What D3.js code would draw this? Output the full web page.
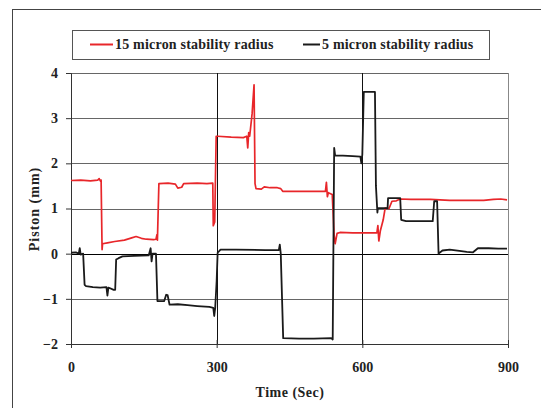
<!DOCTYPE html>
<meta charset="utf-8">
<style>
  body { margin: 0; background: #fff; }
  text { font-family: "Liberation Serif", "Times New Roman", serif; font-weight: bold; }
</style>

<!-- Load d3.js -->
<script src="https://d3js.org/d3.v7.min.js"></script>

<div id="chart"></div>

<script>
// data (time in sec, piston in mm)
var seriesNames = ["15 micron stability radius", "5 micron stability radius"];
var xTicks = [0, 300, 600, 900];
var yTicks = [-2, -1, 0, 1, 2, 3, 4];

var redT = [0, 20, 40, 55, 58, 61, 62, 64, 65, 75, 90, 110, 125, 134, 145, 155, 170, 175, 177, 178, 181,
  200, 215, 220, 228, 232, 260, 280, 292, 293, 296, 299, 302, 330, 355, 362, 364, 366, 368, 373, 377, 379,
  381, 392, 398, 410, 425, 432, 436, 480, 524, 526, 528, 530, 538, 542, 544, 548, 554, 580, 610, 630, 632,
  634, 637, 643, 647, 655, 661, 670, 678, 700, 740, 780, 850, 870, 885, 898];
var redV = [1.62, 1.63, 1.61, 1.63, 1.66, 1.6, 1.63, 0.09, 0.22, 0.24, 0.27, 0.3, 0.35, 0.38, 0.34, 0.32, 0.31, 0.32, 0.42, 0.3, 1.55,
  1.56, 1.54, 1.45, 1.47, 1.55, 1.56, 1.55, 1.56, 0.62, 0.7, 2.6, 2.6, 2.58, 2.57, 2.6, 2.34, 2.68, 2.6, 3.1, 3.74, 1.55,
  1.44, 1.43, 1.48, 1.46, 1.46, 1.44, 1.38, 1.38, 1.38, 1.58, 1.26, 1.35, 1.31, 0.4, 0.22, 0.45, 0.47, 0.46, 0.46, 0.46, 0.62,
  0.28, 0.5, 0.75, 1.01, 1.0, 1.16, 1.17, 1.21, 1.2, 1.2, 1.18, 1.18, 1.2, 1.21, 1.19];

var blackT = [0, 10, 16, 18, 20, 25, 28, 31, 45, 60, 73, 75, 77, 88, 91, 93, 98, 106, 130, 160, 164, 166, 168, 175,
  178, 192, 196, 199, 203, 220, 240, 260, 285, 293, 295, 297, 300, 302, 308, 340, 400, 428, 430, 432, 437,
  470, 500, 536, 539, 542, 544, 560, 580, 596, 598, 600, 603, 626, 628, 631, 632, 652, 653, 678, 680, 690,
  720, 745, 748, 754, 757, 765, 780, 800, 815, 828, 838, 860, 880, 898];
var blackV = [0.02, 0.03, 0.0, 0.12, -0.02, 0.0, -0.69, -0.72, -0.74, -0.75, -0.74, -0.93, -0.75, -0.8, -0.8, -0.13, -0.1, -0.06, -0.05, -0.04, 0.12, -0.17, 0.0, 0.0,
  -1.05, -1.05, -0.91, -0.92, -1.13, -1.12, -1.14, -1.16, -1.18, -1.2, -1.38, -1.2, -0.6, 0.02, 0.09, 0.09, 0.08, 0.08, 0.2, 0.0, -1.87,
  -1.88, -1.88, -1.87, -1.9, 2.34, 2.17, 2.17, 2.16, 2.15, 2.0, 2.2, 3.58, 3.58, 1.5, 0.91, 1.01, 1.01, 1.23, 1.23, 0.75, 0.72,
  0.72, 0.72, 1.16, 1.16, 0.0, 0.07, 0.09, 0.06, 0.04, 0.03, 0.12, 0.12, 0.11, 0.11];

var margin = {top: 73, right: 33, bottom: 64, left: 71};
var width = 541 - margin.left - margin.right;
var height = 408 - margin.top - margin.bottom;

var root = d3.select("#chart")
  .append("svg")
    .attr("width", 541)
    .attr("height", 408);

// outer frame
root.append("rect")
  .attr("x", 12.5).attr("y", 9.5)
  .attr("width", 540).attr("height", 410)
  .style("fill", "none").style("stroke", "#444");

var svg = root.append("g")
  .attr("transform", "translate(" + margin.left + "," + margin.top + ")");

var x = d3.scaleLinear().domain([0, 900]).range([0, width]);
var y = d3.scaleLinear().domain([-2, 4]).range([height, 0]);

// horizontal grid
svg.selectAll(".hgrid")
  .data(yTicks)
  .enter()
  .append("line")
    .attr("x1", 0).attr("x2", width)
    .attr("y1", function(d) { return Math.round(y(d)) + 0.5; })
    .attr("y2", function(d) { return Math.round(y(d)) + 0.5; })
    .style("stroke", function(d) { return d === 0 ? "#000" : "#666"; });

// vertical grid at 300 and 600
svg.selectAll(".vgrid")
  .data([300, 600])
  .enter()
  .append("line")
    .attr("y1", 0).attr("y2", height)
    .attr("x1", function(d) { return Math.round(x(d)) + 0.5; })
    .attr("x2", function(d) { return Math.round(x(d)) + 0.5; })
    .style("stroke", "#111");

// right border
svg.append("line")
  .attr("x1", width + 0.5).attr("x2", width + 0.5)
  .attr("y1", 0).attr("y2", height)
  .style("stroke", "#888");

// axes
var yAxis = svg.append("g")
  .call(d3.axisLeft(y).tickValues(yTicks).tickSize(5).tickPadding(8).tickFormat(d3.format("d")));
var xAxis = svg.append("g")
  .attr("transform", "translate(0," + height + ")")
  .call(d3.axisBottom(x).tickValues(xTicks).tickSize(4).tickPadding(14));
xAxis.selectAll(".tick line").attr("y1", -4);

svg.selectAll(".domain").style("stroke", "#333");
svg.selectAll(".tick line").style("stroke", "#333");
svg.selectAll(".tick text")
  .style("font-size", "14px")
  .style("fill", "#222");
xAxis.select(".domain").attr("d", "M0,0.5H" + width);

// lines
var line = d3.line()
  .x(function(d) { return x(d[0]); })
  .y(function(d) { return y(d[1]); });

var redData = redT.map(function(t, i) { return [t, redV[i]]; });
var blackData = blackT.map(function(t, i) { return [t, blackV[i]]; });

svg.append("path")
  .datum(redData)
  .attr("d", line)
  .style("fill", "none")
  .style("stroke", "#e8262a")
  .style("stroke-width", 1.7)
  .style("stroke-linejoin", "round");

svg.append("path")
  .datum(blackData)
  .attr("d", line)
  .style("fill", "none")
  .style("stroke", "#1a1a1a")
  .style("stroke-width", 1.8)
  .style("stroke-linejoin", "round");

// axis titles
root.append("text")
  .attr("x", 290).attr("y", 397)
  .attr("text-anchor", "middle")
  .style("font-size", "14px")
  .style("letter-spacing", "0.5px")
  .style("fill", "#222")
  .text("Time (Sec)");

root.append("text")
  .attr("transform", "translate(39,209) rotate(-90)")
  .attr("text-anchor", "middle")
  .style("font-size", "14px")
  .style("letter-spacing", "1px")
  .style("fill", "#222")
  .text("Piston (mm)");

// legend
var legend = root.append("g");
legend.append("rect")
  .attr("x", 72.5).attr("y", 30.5)
  .attr("width", 417).attr("height", 29)
  .style("fill", "#fff").style("stroke", "#555");

var legendItems = [
  {name: seriesNames[0], color: "#e8262a", x: 90, len: 23},
  {name: seriesNames[1], color: "#1a1a1a", x: 303, len: 17}
];
legendItems.forEach(function(d) {
  legend.append("line")
    .attr("x1", d.x).attr("x2", d.x + d.len)
    .attr("y1", 44.5).attr("y2", 44.5)
    .style("stroke", d.color).style("stroke-width", 2);
  legend.append("text")
    .attr("x", d.x + d.len + 2).attr("y", 49)
    .style("font-size", "14px")
    .style("letter-spacing", "0.2px")
    .style("fill", "#222")
    .text(d.name);
});
</script>
